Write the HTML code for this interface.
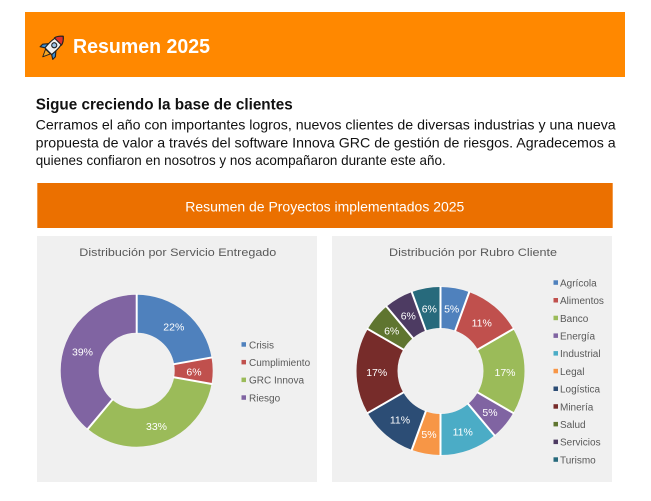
<!DOCTYPE html>
<html><head><meta charset="utf-8">
<style>
html,body{margin:0;padding:0;background:#fff;}
svg{display:block;}
text{font-family:"Liberation Sans",sans-serif;}
</style></head>
<body>
<svg width="651" height="501" viewBox="0 0 651 501" xmlns="http://www.w3.org/2000/svg">
<rect x="0" y="0" width="651" height="501" fill="#fff"/>
<!-- Header -->
<rect x="25" y="12" width="600" height="65" fill="#FF8800"/>
<g transform="translate(53.5,46) rotate(45) scale(1.05)" stroke="#222" stroke-width="1.1" stroke-linejoin="round">
  <path d="M-3.2,7.5 L3.2,7.5 L0,14.5 Z" fill="#f5a623" stroke-width="0.9"/>
  <path d="M-4.3,1 L-8.5,6 L-8.5,9.5 L-4.5,7 Z" fill="#3b8fd6"/>
  <path d="M4.3,1 L8.5,6 L8.5,9.5 L4.5,7 Z" fill="#3b8fd6"/>
  <path d="M0,-13 C5,-9 5.5,-2 4.5,7 L-4.5,7 C-5.5,-2 -5,-9 0,-13 Z" fill="#f0f0f0"/>
  <path d="M0,-13 C3.5,-10.2 4.5,-8 4.8,-6 L-4.8,-6 C-4.5,-8 -3.5,-10.2 0,-13 Z" fill="#e0302a"/>
  <circle cx="0" cy="-1" r="2.4" fill="#9cc3e6"/>
</g>
<text x="73" y="53" font-size="20" font-weight="bold" fill="#fff" textLength="137" lengthAdjust="spacingAndGlyphs">Resumen 2025</text>

<!-- Heading + paragraph -->
<text x="35.7" y="109.3" font-size="15.5" font-weight="bold" fill="#111" textLength="257" lengthAdjust="spacingAndGlyphs">Sigue creciendo la base de clientes</text>
<text x="35.7" y="129.3" font-size="14" fill="#111" textLength="580" lengthAdjust="spacingAndGlyphs">Cerramos el año con importantes logros, nuevos clientes de diversas industrias y una nueva</text>
<text x="35.7" y="147.3" font-size="14" fill="#111" textLength="580" lengthAdjust="spacingAndGlyphs">propuesta de valor a través del software Innova GRC de gestión de riesgos. Agradecemos a</text>
<text x="35.7" y="165.2" font-size="14" fill="#111" textLength="410" lengthAdjust="spacingAndGlyphs">quienes confiaron en nosotros y nos acompañaron durante este año.</text>

<!-- Second bar -->
<rect x="37.3" y="183" width="575.4" height="45" fill="#EB7000"/>
<text x="185.3" y="211.5" font-size="13.5" fill="#fff" textLength="279" lengthAdjust="spacingAndGlyphs">Resumen de Proyectos implementados 2025</text>

<!-- Panels -->
<rect x="37" y="236" width="280" height="246" fill="#F0F0F0"/>
<rect x="332" y="236" width="280" height="246" fill="#F0F0F0"/>

<!-- Left chart -->
<text x="79.3" y="256" font-size="11" fill="#595959" textLength="197" lengthAdjust="spacingAndGlyphs">Distribución por Servicio Entregado</text>
<g transform="rotate(-90 136.7 370.7)" fill="none" stroke-width="38">
  <circle cx="136.7" cy="370.7" r="57" stroke="#4F81BD" stroke-dasharray="79.59 400" stroke-dashoffset="0"/>
  <circle cx="136.7" cy="370.7" r="57" stroke="#C0504D" stroke-dasharray="19.90 400" stroke-dashoffset="-79.59"/>
  <circle cx="136.7" cy="370.7" r="57" stroke="#9BBB59" stroke-dasharray="119.38 400" stroke-dashoffset="-99.48"/>
  <circle cx="136.7" cy="370.7" r="57" stroke="#8064A2" stroke-dasharray="139.28 400" stroke-dashoffset="-218.86"/>
</g>
<g stroke="#fff" stroke-width="2">
  <line x1="136.7" y1="333.7" x2="136.7" y2="293.7"/>
  <line x1="173.1" y1="364.3" x2="212.5" y2="357.3"/>
  <line x1="173.1" y1="377.1" x2="212.5" y2="384.1"/>
  <line x1="112.9" y1="399.0" x2="87.2" y2="429.7"/>
</g>
<g font-size="10.5" fill="#fff" text-anchor="middle">
  <text x="173.8" y="330.7">22%</text>
  <text x="194" y="375.7">6%</text>
  <text x="156.5" y="430.2">33%</text>
  <text x="82.5" y="355.7">39%</text>
</g>
<g font-size="10" fill="#595959">
  <rect x="241.5" y="342.2" width="4.5" height="4.5" fill="#4F81BD"/><text x="249" y="348.3">Crisis</text>
  <rect x="241.5" y="359.9" width="4.5" height="4.5" fill="#C0504D"/><text x="249" y="366">Cumplimiento</text>
  <rect x="241.5" y="377.6" width="4.5" height="4.5" fill="#9BBB59"/><text x="249" y="383.7">GRC Innova</text>
  <rect x="241.5" y="395.3" width="4.5" height="4.5" fill="#8064A2"/><text x="249" y="401.4">Riesgo</text>
</g>

<!-- Right chart -->
<text x="389" y="256" font-size="11" fill="#595959" textLength="168" lengthAdjust="spacingAndGlyphs">Distribución por Rubro Cliente</text>
<g transform="rotate(-90 440.5 371)" fill="none" stroke-width="41">
  <circle cx="440.5" cy="371" r="63.5" stroke="#4F81BD" stroke-dasharray="22.166 500" stroke-dashoffset="0"/>
  <circle cx="440.5" cy="371" r="63.5" stroke="#C0504D" stroke-dasharray="44.331 500" stroke-dashoffset="-22.166"/>
  <circle cx="440.5" cy="371" r="63.5" stroke="#9BBB59" stroke-dasharray="66.497 500" stroke-dashoffset="-66.497"/>
  <circle cx="440.5" cy="371" r="63.5" stroke="#8064A2" stroke-dasharray="22.166 500" stroke-dashoffset="-132.993"/>
  <circle cx="440.5" cy="371" r="63.5" stroke="#4BACC6" stroke-dasharray="44.331 500" stroke-dashoffset="-155.159"/>
  <circle cx="440.5" cy="371" r="63.5" stroke="#F79646" stroke-dasharray="22.166 500" stroke-dashoffset="-199.490"/>
  <circle cx="440.5" cy="371" r="63.5" stroke="#2C4D75" stroke-dasharray="44.331 500" stroke-dashoffset="-221.656"/>
  <circle cx="440.5" cy="371" r="63.5" stroke="#772C2A" stroke-dasharray="66.497 500" stroke-dashoffset="-265.987"/>
  <circle cx="440.5" cy="371" r="63.5" stroke="#5F7530" stroke-dasharray="22.166 500" stroke-dashoffset="-332.483"/>
  <circle cx="440.5" cy="371" r="63.5" stroke="#4D3B62" stroke-dasharray="22.166 500" stroke-dashoffset="-354.649"/>
  <circle cx="440.5" cy="371" r="63.5" stroke="#276A7C" stroke-dasharray="22.166 500" stroke-dashoffset="-376.814"/>
</g>
<g stroke="#fff" stroke-width="2">
  <line x1="440.5" y1="329" x2="440.5" y2="286"/>
  <line x1="454.9" y1="331.5" x2="469.6" y2="291.1"/>
  <line x1="476.9" y1="350" x2="514.1" y2="328.5"/>
  <line x1="476.9" y1="392" x2="514.1" y2="413.5"/>
  <line x1="467.5" y1="403.2" x2="495.1" y2="436.1"/>
  <line x1="440.5" y1="413" x2="440.5" y2="456"/>
  <line x1="426.1" y1="410.5" x2="411.4" y2="450.9"/>
  <line x1="404.1" y1="392" x2="366.9" y2="413.5"/>
  <line x1="404.1" y1="350" x2="366.9" y2="328.5"/>
  <line x1="413.5" y1="338.8" x2="385.9" y2="305.9"/>
  <line x1="426.1" y1="331.5" x2="411.4" y2="291.1"/>
</g>
<g font-size="10.5" fill="#fff" text-anchor="middle">
  <text x="451.7" y="312.5">5%</text>
  <text x="481.7" y="326.5">11%</text>
  <text x="505" y="376">17%</text>
  <text x="490" y="416">5%</text>
  <text x="462.7" y="435.4">11%</text>
  <text x="429" y="438">5%</text>
  <text x="400" y="423.7">11%</text>
  <text x="376.7" y="376">17%</text>
  <text x="391.7" y="334.4">6%</text>
  <text x="408.3" y="319.7">6%</text>
  <text x="429.3" y="312.5">6%</text>
</g>
<g font-size="10" fill="#595959">
  <rect x="553.5" y="280.3" width="4.5" height="4.5" fill="#4F81BD"/><text x="560" y="286.4">Agrícola</text>
  <rect x="553.5" y="298.0" width="4.5" height="4.5" fill="#C0504D"/><text x="560" y="304.1">Alimentos</text>
  <rect x="553.5" y="315.7" width="4.5" height="4.5" fill="#9BBB59"/><text x="560" y="321.8">Banco</text>
  <rect x="553.5" y="333.4" width="4.5" height="4.5" fill="#8064A2"/><text x="560" y="339.5">Energía</text>
  <rect x="553.5" y="351.1" width="4.5" height="4.5" fill="#4BACC6"/><text x="560" y="357.2">Industrial</text>
  <rect x="553.5" y="368.8" width="4.5" height="4.5" fill="#F79646"/><text x="560" y="374.9">Legal</text>
  <rect x="553.5" y="386.5" width="4.5" height="4.5" fill="#2C4D75"/><text x="560" y="392.6">Logística</text>
  <rect x="553.5" y="404.2" width="4.5" height="4.5" fill="#772C2A"/><text x="560" y="410.3">Minería</text>
  <rect x="553.5" y="421.9" width="4.5" height="4.5" fill="#5F7530"/><text x="560" y="428.0">Salud</text>
  <rect x="553.5" y="439.6" width="4.5" height="4.5" fill="#4D3B62"/><text x="560" y="445.7">Servicios</text>
  <rect x="553.5" y="457.3" width="4.5" height="4.5" fill="#276A7C"/><text x="560" y="463.4">Turismo</text>
</g>
</svg>
</body></html>
